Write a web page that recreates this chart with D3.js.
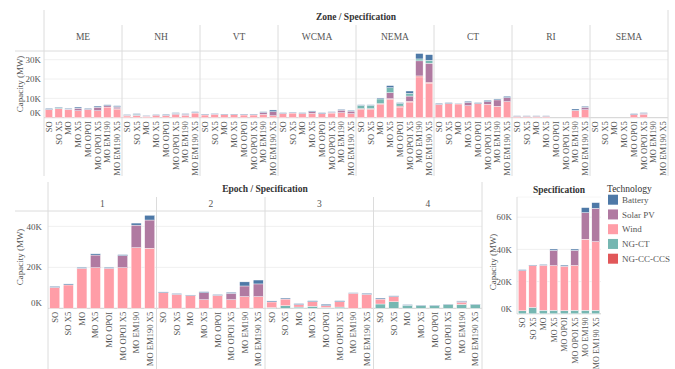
<!DOCTYPE html>
<html>
<head>
<meta charset="utf-8">
<script src="https://cdn.jsdelivr.net/npm/d3@7"></script>
<style>
  body { margin: 0; background: #fff; }
</style>
</head>
<body>
<svg id="chart" width="675" height="369" style="font-family: 'Liberation Serif', 'DejaVu Serif', serif;"></svg>
<script>
// ---- Categories ----
const specifications = ["SO", "SO X5", "MO", "MO X5", "MO OPOI", "MO OPOI X5", "MO EM190", "MO EM190 X5"];
const zones = ["ME", "NH", "VT", "WCMA", "NEMA", "CT", "RI", "SEMA"];
const epochs = ["1", "2", "3", "4"];
const technologies = ["Battery", "Solar PV", "Wind", "NG-CT", "NG-CC-CCS"];
const techColors = ["#4e79a7", "#b07aa1", "#ff9da7", "#76b7b2", "#e15759"];

// ---- Capacity by zone (MW): one row per zone, one value per specification ----
const zoneWind = [
  [4100, 4700, 4300, 3600, 4300, 3600, 5500, 4300],
  [900, 1000, 700, 1000, 1000, 1600, 1200, 2400],
  [1400, 1600, 1600, 1600, 1400, 1400, 1700, 1000],
  [2200, 2400, 2200, 2200, 2100, 2400, 2600, 2100],
  [4300, 4300, 6900, 9500, 5500, 8100, 21100, 17800],
  [6900, 7300, 7100, 6200, 7300, 6900, 5900, 8300],
  [700, 700, 700, 700, 0, 0, 3800, 4100],
  [0, 0, 0, 0, 1600, 1700, 0, 0]
];
const zoneCCS = [
  [0, 0, 0, 0, 0, 0, 0, 300],
  [200, 0, 0, 0, 0, 0, 0, 0],
  [0, 0, 0, 0, 0, 0, 0, 0],
  [0, 0, 0, 0, 0, 0, 0, 0],
  [400, 400, 400, 300, 500, 400, 500, 500],
  [0, 0, 0, 0, 0, 0, 0, 0],
  [0, 0, 0, 0, 0, 0, 0, 0],
  [0, 0, 0, 0, 0, 0, 0, 0]
];
const zoneSolar = [
  [200, 0, 100, 1300, 0, 1800, 700, 900],
  [200, 300, 200, 400, 300, 500, 600, 300],
  [200, 300, 0, 0, 200, 200, 1000, 2100],
  [0, 0, 0, 900, 0, 400, 1300, 1300],
  [0, 0, 0, 3150, 0, 2700, 7800, 9900],
  [0, 0, 0, 1700, 0, 1400, 3300, 2100],
  [0, 0, 0, 0, 0, 0, 0, 1300],
  [0, 0, 0, 0, 0, 600, 0, 0]
];
const zoneCT = [
  [0, 500, 0, 0, 0, 0, 0, 200],
  [0, 400, 0, 0, 0, 200, 0, 0],
  [0, 0, 0, 0, 0, 0, 0, 0],
  [0, 0, 0, 0, 0, 0, 0, 0],
  [1700, 1700, 2400, 2550, 1400, 1400, 1000, 1500],
  [0, 0, 0, 0, 0, 0, 0, 0],
  [0, 0, 0, 0, 0, 0, 0, 0],
  [0, 0, 0, 0, 0, 0, 0, 0]
];
const zoneBattery = [
  [500, 300, 400, 600, 500, 600, 500, 500],
  [300, 400, 300, 300, 400, 300, 300, 400],
  [300, 300, 300, 300, 300, 300, 400, 900],
  [400, 400, 400, 400, 500, 300, 400, 400],
  [300, 300, 500, 1100, 400, 1200, 2800, 2900],
  [500, 500, 300, 600, 500, 700, 500, 700],
  [300, 300, 300, 300, 0, 0, 700, 500],
  [0, 0, 0, 0, 500, 300, 0, 0]
];

// ---- Capacity by epoch (MW): one row per epoch ----
const epochWind = [
  [10200, 11400, 19500, 19800, 19500, 19800, 29600, 29300],
  [7600, 6800, 6200, 4200, 6300, 4200, 5700, 5700],
  [2800, 3200, 1200, 2200, 900, 2600, 7300, 6800],
  [2400, 2500, 0, 0, 0, 0, 900, 0]
];
const epochCCS = [
  [0, 0, 0, 0, 0, 0, 0, 0],
  [0, 0, 0, 0, 0, 0, 0, 0],
  [0, 0, 0, 0, 0, 0, 0, 0],
  [0, 0, 0, 0, 0, 0, 0, 0]
];
const epochSolar = [
  [0, 0, 0, 6200, 0, 5900, 11000, 13800],
  [0, 0, 0, 3400, 0, 3100, 5200, 6200],
  [0, 0, 0, 0, 0, 0, 0, 0],
  [0, 0, 0, 0, 0, 0, 500, 0]
];
const epochCT = [
  [0, 0, 0, 0, 0, 0, 0, 0],
  [0, 0, 0, 0, 0, 0, 0, 0],
  [300, 1300, 600, 1000, 400, 600, 0, 0],
  [2100, 3200, 1500, 1400, 1400, 1900, 1900, 1900]
];
const epochBattery = [
  [500, 500, 500, 600, 500, 500, 1000, 2300],
  [400, 400, 300, 500, 400, 500, 2000, 1900],
  [500, 500, 500, 500, 700, 500, 300, 500],
  [500, 400, 300, 200, 200, 200, 300, 200]
];

// ---- Total capacity per specification (MW) ----
const specWind = [24900, 25900, 27900, 27700, 27500, 27800, 44100, 42600];
const specCCS = [0, 0, 0, 0, 0, 0, 0, 0];
const specSolar = [0, 0, 0, 9500, 0, 9400, 16500, 20700];
const specCT = [1900, 4000, 2200, 2200, 2000, 2200, 2200, 2200];
const specBattery = [600, 400, 500, 800, 700, 800, 3100, 3500];

// ---- Axis ticks ----
const zoneTicks = [0, 10000, 20000, 30000];
const epochTicks = [0, 20000, 40000];
const specTicks = [0, 20000, 40000, 60000];

const color = d3.scaleOrdinal().domain(technologies).range(techColors);
const fmtK = d => (d / 1000) + "K";
const LINE = "#dcdcdc", GRID = "#f0f0f0", TXT = "#555";

const svg = d3.select("#chart");

// Builds one row per (panel, specification) with a field per technology
function buildRows(panels, series) {
  const rows = [];
  panels.forEach((p, i) => {
    specifications.forEach((s, j) => {
      const r = { panel: p, spec: s };
      technologies.forEach(t => { r[t] = series[t][i][j]; });
      rows.push(r);
    });
  });
  return rows;
}

// Draws a faceted stacked-bar block
function drawBlock(cfg) {
  const g = svg.append("g");
  const fx = d3.scaleBand().domain(cfg.panels).range(cfg.xRange);
  const x = d3.scaleBand().domain(specifications).range([0, fx.bandwidth()])
    .paddingInner(cfg.pad).paddingOuter(cfg.pad / 2);
  const y = d3.scaleLinear().domain([0, cfg.yMax]).range([cfg.base, cfg.plotTop]);

  // gridlines
  g.append("g").selectAll("line").data(cfg.ticks.filter(d => d > 0)).join("line")
    .attr("x1", cfg.xRange[0]).attr("x2", cfg.xRange[1])
    .attr("y1", d => y(d)).attr("y2", d => y(d))
    .attr("stroke", GRID).attr("stroke-width", 1);

  // header/plot separator and baseline
  g.append("line").attr("x1", cfg.ruleLeft).attr("x2", cfg.xRange[1])
    .attr("y1", cfg.plotTop).attr("y2", cfg.plotTop).attr("stroke", cfg.topRule || LINE);
  g.append("line").attr("x1", cfg.xRange[0]).attr("x2", cfg.xRange[1])
    .attr("y1", y(0)).attr("y2", y(0)).attr("stroke", "#d0d0d0");

  // frame lines
  (cfg.vlines || []).forEach(v => {
    g.append("line").attr("x1", v[0]).attr("x2", v[0]).attr("y1", v[1]).attr("y2", v[2])
      .attr("stroke", LINE);
  });
  // panel dividers
  if (cfg.dividerTop != null) {
    g.append("g").selectAll("line").data(cfg.panels.slice(1)).join("line")
      .attr("x1", d => fx(d)).attr("x2", d => fx(d))
      .attr("y1", cfg.dividerTop).attr("y2", cfg.bottom)
      .attr("stroke", LINE);
  }

  // stacked bars
  const rows = buildRows(cfg.panels, cfg.series);
  const stacked = d3.stack().keys(cfg.order)(rows);
  g.append("g").selectAll("g").data(stacked).join("g")
    .attr("fill", d => color(d.key))
    .selectAll("rect").data(d => d.filter(v => v[1] - v[0] > 0)).join("rect")
    .attr("x", d => fx(d.data.panel) + x(d.data.spec))
    .attr("width", x.bandwidth())
    .attr("y", d => y(d[1]))
    .attr("height", d => y(d[0]) - y(d[1]))
    .attr("stroke", "#fff").attr("stroke-width", 0.4);

  // y ticks
  g.append("g").selectAll("text").data(cfg.ticks).join("text")
    .attr("x", cfg.tickX)
    .attr("y", d => d === 0 ? y(d) - 5 : y(d))
    .attr("dy", "0.35em")
    .attr("text-anchor", "end")
    .attr("font-size", 9).attr("fill", TXT)
    .text(fmtK);

  // y title
  g.append("text")
    .attr("transform", `translate(${cfg.yTitle[0]},${cfg.yTitle[1]}) rotate(-90)`)
    .attr("text-anchor", "middle").attr("dy", "0.35em")
    .attr("font-size", 9).attr("fill", TXT)
    .text("Capacity (MW)");

  // category labels
  g.append("g").selectAll("text").data(rows).join("text")
    .attr("transform", d => `translate(${fx(d.panel) + x(d.spec) + x.bandwidth() / 2},${y(0) + 3.5}) rotate(-90)`)
    .attr("text-anchor", "end").attr("dy", "0.35em")
    .attr("font-size", cfg.labelSize).attr("fill", TXT)
    .text(d => d.spec);

  // panel headers
  if (cfg.headerY != null) {
    g.append("g").selectAll("text").data(cfg.panels).join("text")
      .attr("x", d => fx(d) + fx.bandwidth() / 2)
      .attr("y", cfg.headerY).attr("dy", "0.35em")
      .attr("text-anchor", "middle")
      .attr("font-size", 9.5).attr("fill", TXT)
      .text(d => d);
  }

  // block title
  g.append("text")
    .attr("x", cfg.title[1]).attr("y", cfg.title[2]).attr("dy", "0.35em")
    .attr("text-anchor", "middle")
    .attr("font-size", 9.5).attr("font-weight", "bold").attr("fill", "#333")
    .text(cfg.title[0]);
}

// Zone / Specification
drawBlock({
  panels: zones,
  series: { "Wind": zoneWind, "NG-CC-CCS": zoneCCS, "Solar PV": zoneSolar, "NG-CT": zoneCT, "Battery": zoneBattery },
  order: ["Wind", "NG-CC-CCS", "Solar PV", "NG-CT", "Battery"],
  xRange: [44, 668], pad: 0.24,
  yMax: 34500, base: 117.7, plotTop: 51,
  ticks: zoneTicks, tickX: 41, yTitle: [20, 84],
  ruleLeft: 15, dividerTop: 25, bottom: 176,
  vlines: [[44, 10, 176], [668, 10, 176]],
  headerY: 37, labelSize: 8.6,
  title: ["Zone  /  Specification", 356, 17]
});

// Epoch / Specification
drawBlock({
  panels: epochs,
  series: { "Wind": epochWind, "NG-CC-CCS": epochCCS, "Solar PV": epochSolar, "NG-CT": epochCT, "Battery": epochBattery },
  order: ["NG-CT", "NG-CC-CCS", "Wind", "Solar PV", "Battery"],
  xRange: [48, 482], pad: 0.26,
  yMax: 47500, base: 308.3, plotTop: 211,
  ticks: epochTicks, tickX: 42, yTitle: [20, 257],
  ruleLeft: 15, dividerTop: 197, bottom: 369,
  vlines: [[48, 182, 369], [482, 182, 369]],
  headerY: 204, labelSize: 8.6,
  title: ["Epoch  /  Specification", 265, 189]
});

// Specification totals
drawBlock({
  panels: ["all"],
  series: { "Wind": [specWind], "NG-CC-CCS": [specCCS], "Solar PV": [specSolar], "NG-CT": [specCT], "Battery": [specBattery] },
  order: ["NG-CT", "NG-CC-CCS", "Wind", "Solar PV", "Battery"],
  xRange: [517, 601], pad: 0.25,
  yMax: 72500, base: 313.8, plotTop: 197, topRule: "#f6f6f6",
  ticks: specTicks, tickX: 512, yTitle: [493, 262],
  ruleLeft: 517, dividerTop: null, bottom: 369,
  vlines: [[517, 197, 314]],
  headerY: null, labelSize: 8.2,
  title: ["Specification", 559, 190]
});

// Legend
const legend = svg.append("g").attr("transform", "translate(608,0)");
legend.append("text").attr("x", -1).attr("y", 189).attr("dy", "0.35em")
  .attr("font-size", 9.5).attr("fill", "#333").text("Technology");
const item = legend.selectAll("g.item").data(technologies).join("g")
  .attr("class", "item")
  .attr("transform", (d, i) => `translate(0,${199.7 + i * 14.75})`);
item.append("rect").attr("x", 0).attr("y", -5).attr("width", 10).attr("height", 10)
  .attr("fill", d => color(d));
item.append("text").attr("x", 14).attr("y", 0).attr("dy", "0.35em")
  .attr("font-size", 9).attr("fill", TXT).text(d => d);
</script>
</body>
</html>
